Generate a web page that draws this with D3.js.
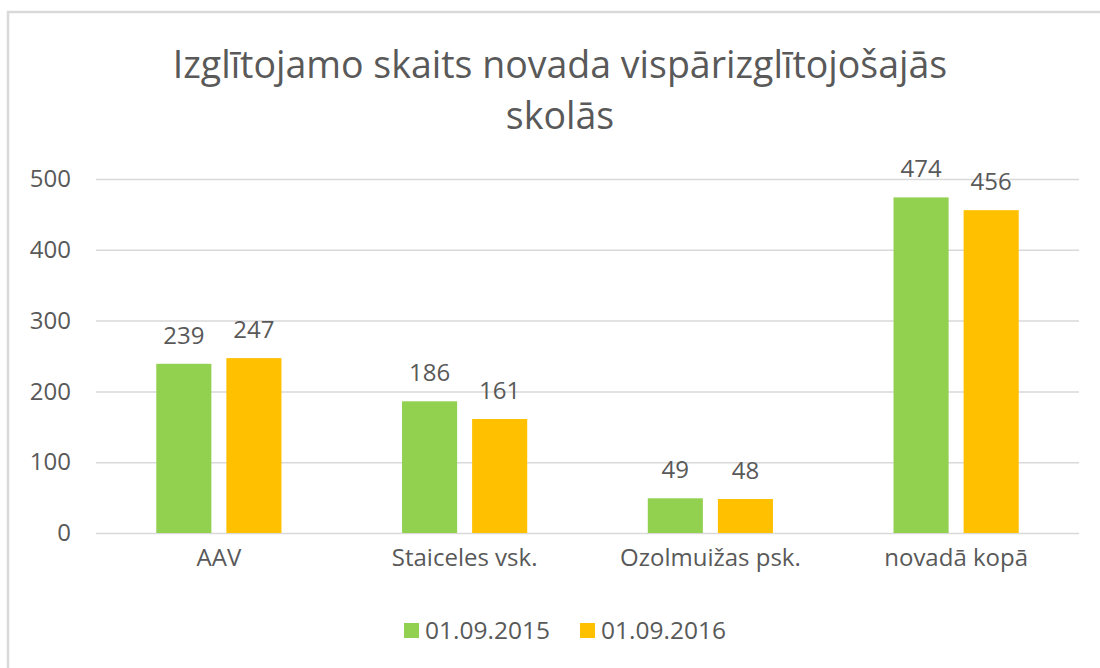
<!DOCTYPE html>
<html>
<head>
<meta charset="utf-8">
<script src="https://cdn.jsdelivr.net/npm/d3@7"></script>
<style>
  body { margin: 0; background: #fff; }
  text { font-family: "Open Sans", "Noto Sans", sans-serif; fill: #595959; }
</style>
</head>
<body>
<div id="chart"></div>
<script>
var width = 1100;
var height = 668;

var categories = ["AAV", "Staiceles vsk.", "Ozolmuižas psk.", "novadā kopā"];
var seriesNames = ["01.09.2015", "01.09.2016"];
var values2015 = [239, 186, 49, 474];
var values2016 = [247, 161, 48, 456];
var yTicks = [0, 100, 200, 300, 400, 500];
var titleLines = ["Izglītojamo skaits novada vispārizglītojošajās", "skolās"];

var colors = ["#92D050", "#FFC000"];

var margin = {left: 96, right: 21, top: 179, bottom: 135};

var svg = d3.select("#chart")
			.append("svg").attr("width", width)
			.attr("height", height);

// chart frame (only top and left edges are visible in the picture)
svg.append("rect")
   .attr("x", 8).attr("y", 12)
   .attr("width", width + 20).attr("height", height + 20)
   .attr("fill", "none")
   .attr("stroke", "#D9D9D9")
   .attr("stroke-width", 2.5);

var x = d3.scaleBand()
		  .domain(categories)
		  .range([margin.left, width - margin.right]);

var y = d3.scaleLinear()
		  .domain([0, 500])
		  .range([height - margin.bottom, margin.top]);

var inner = d3.scaleBand()
			  .domain([0, 1])
			  .range([0, x.bandwidth()])
			  .paddingInner(0.214)
			  .paddingOuter(0.86);

// gridlines + y labels
var yAxis = d3.axisLeft(y)
			  .tickValues(yTicks)
			  .tickSize(-(width - margin.left - margin.right))
			  .tickPadding(25);

var gy = svg.append("g")
			.attr("transform", "translate(" + margin.left + ",0)")
			.call(yAxis);
gy.select(".domain").remove();
gy.selectAll(".tick line").attr("stroke", "#D9D9D9").attr("stroke-width", 1.5);
gy.selectAll(".tick text")
  .attr("font-size", 24)
  .style("font-family", "'Open Sans', sans-serif")
  .attr("fill", "#595959");

// x labels
var xAxis = d3.axisBottom(x).tickSize(0).tickPadding(16);
var gx = svg.append("g")
			.attr("transform", "translate(0," + (height - margin.bottom) + ")")
			.call(xAxis);
gx.select(".domain").remove();
gx.selectAll(".tick text")
  .attr("font-size", 24)
  .style("font-family", "'Open Sans', sans-serif")
  .attr("fill", "#595959");

var series = [values2015, values2016];

series.forEach(function(vals, s) {
	var g = svg.append("g");
	g.selectAll("rect")
	 .data(vals)
	 .enter()
	 .append("rect")
	 .attr("x", function(d, i) { return x(categories[i]) + inner(s); })
	 .attr("y", function(d) { return y(d); })
	 .attr("width", inner.bandwidth())
	 .attr("height", function(d) { return y(0) - y(d); })
	 .attr("fill", colors[s]);

	g.selectAll("text")
	 .data(vals)
	 .enter()
	 .append("text")
	 .attr("x", function(d, i) { return x(categories[i]) + inner(s) + inner.bandwidth() / 2; })
	 .attr("y", function(d) { return y(d) - 20; })
	 .attr("text-anchor", "middle")
	 .attr("font-size", 24)
	 .text(function(d) { return d; });
});

// title
svg.append("g").selectAll("text")
   .data(titleLines)
   .enter()
   .append("text")
   .attr("x", 560)
   .attr("y", function(d, i) { return 78 + i * 51; })
   .attr("text-anchor", "middle")
   .attr("font-size", 37.5)
   .text(function(d) { return d; });

// legend
var legendX = [404, 580];
var legend = svg.append("g").selectAll("g")
				.data(seriesNames)
				.enter()
				.append("g")
				.attr("transform", function(d, i) { return "translate(" + legendX[i] + ",623)"; });
legend.append("rect")
	  .attr("width", 15).attr("height", 15)
	  .attr("fill", function(d, i) { return colors[i]; });
legend.append("text")
	  .attr("x", 21).attr("y", 16)
	  .attr("font-size", 24.5)
	  .text(function(d) { return d; });
</script>
</body>
</html>
